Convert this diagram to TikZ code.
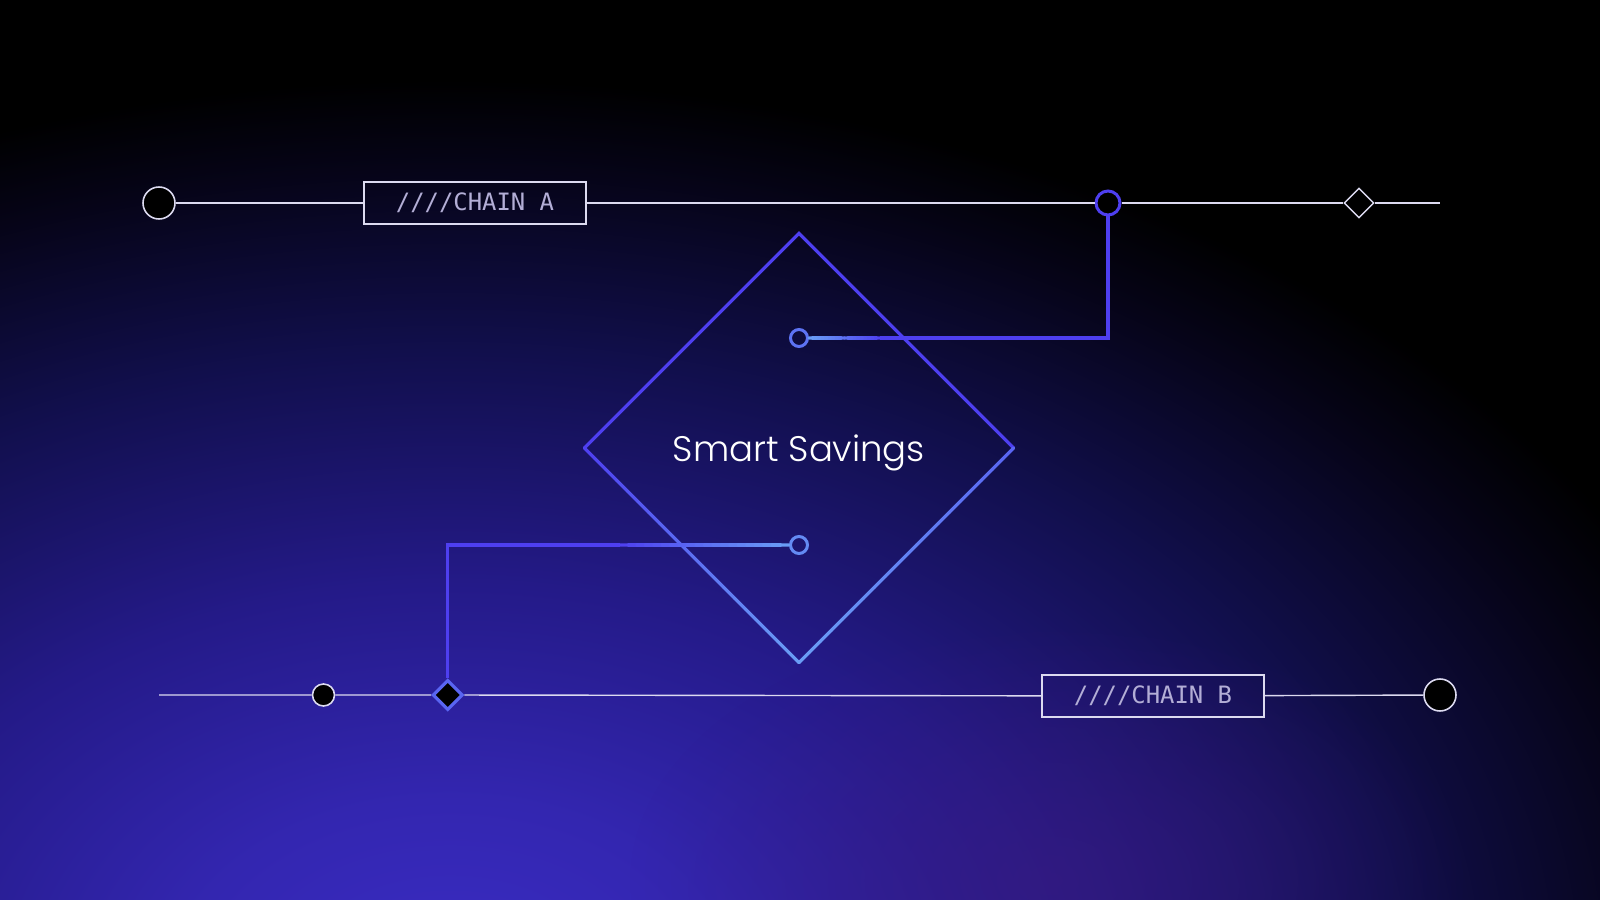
\documentclass[tikz,border=0pt]{standalone}
\usepackage{fontspec}
\newfontfamily\titlefont{Poppins}[UprightFont=* Light]
\newfontfamily\chainfont{DejaVu Sans Mono}
\usetikzlibrary{shapes.geometric, calc, fadings}

\definecolor{glowA}{HTML}{3A2CC4}
\definecolor{glowB}{HTML}{3326B0}
\definecolor{glowC}{HTML}{241A88}
\definecolor{glowD}{HTML}{110F4C}
\definecolor{glowE}{HTML}{060418}
\definecolor{glowP}{HTML}{3A1A80}
\definecolor{indigoline}{HTML}{4E3FF0}
\definecolor{skyline}{HTML}{6A9EF5}
\definecolor{railline}{HTML}{DCDAF0}
\definecolor{tagtext}{HTML}{B3AED6}

\pgfdeclareradialshading{floorglow}{\pgfpoint{0bp}{0bp}}{color(0bp)=(glowA); color(5bp)=(glowB); color(11bp)=(glowC); color(17.5bp)=(glowD); color(22.5bp)=(glowE); color(25bp)=(black); color(50bp)=(black)}
\tikzfading[name=softglow, inner color=transparent!0, outer color=transparent!100]

\tikzset{
  rail/.style={draw=railline, line width=0.4pt},
  wire/.style={draw=indigoline, line width=0.9pt},
  tagbox/.style={draw=railline, line width=0.45pt, minimum width=22.2mm, minimum height=4.2mm, inner sep=0pt, text=tagtext, font=\chainfont\fontsize{6.8}{8}\selectfont},
  endpoint/.style={circle, draw=railline, fill=black, line width=0.45pt, inner sep=0pt, minimum size=3.2mm},
  ring/.style={circle, line width=0.85pt, inner sep=0pt},
}

% colour fading along a straight piece of wire
\newcommand{\fadeline}[4]{%
  \foreach \k in {1,...,20}{%
    \pgfmathsetmacro{\mixpct}{5*\k-2.5}%
    \draw[wire, line cap=round, draw=#4!\mixpct!#3] ($(#1)!{(\k-1)/20}!(#2)$) -- ($(#1)!{\k/20}!(#2)$);
  }}

\begin{document}
\begin{tikzpicture}[x=0.1mm, y=-0.1mm]
    \useasboundingbox (0,0) rectangle (1600,900);

    % background
    \begin{scope}
        \clip (0,0) rectangle (1600,900);
        \fill[black] (0,0) rectangle (1600,900);
        \shade[shading=floorglow] (450,980) ellipse (1350 and 900);
        \fill[glowP, path fading=softglow, fill opacity=0.6] (1050,880) ellipse (420 and 260);
    \end{scope}

    % chain A
    \node[endpoint] (startA) at (159,203) {};
    \node[tagbox] (chainA) at (475,203) {////CHAIN A};
    \node[ring, draw=indigoline, fill=black, minimum size=2.4mm] (ringA) at (1108,203) {};
    \node[diamond, draw=railline, line width=0.4pt, inner sep=0pt, minimum size=3mm] (diamA) at (1359,203) {};
    \coordinate (endA) at (1440,203);

    % chain B
    \coordinate (startB) at (159,695);
    \node[endpoint, minimum size=2.2mm] (dotB) at (323.5,695) {};
    \node[diamond, draw=indigoline!60!skyline, fill=black, line width=0.9pt, inner sep=0pt, minimum size=3mm] (diamB) at (447.7,695) {};
    \node[tagbox] (chainB) at (1153,696) {////CHAIN B};
    \node[endpoint] (endB) at (1440,695) {};

    % smart savings
    \node[diamond, aspect=1, inner sep=0pt, minimum width=42.8mm, minimum height=42.8mm, text depth=0pt, text=white, font=\titlefont\fontsize{10.1}{12}\selectfont] (savings) at (799,448) {Smart Savings};
    \node[ring, draw=indigoline!45!skyline, minimum size=1.7mm] (dotTop) at (799,338) {};
    \node[ring, draw=skyline!80!indigoline, minimum size=1.7mm] (dotBot) at (799,545) {};

    \draw[rail] (startA) -- (chainA) -- (ringA) -- (diamA) -- (endA);
    \draw[rail] (startB) -- (dotB) -- (diamB) -- (chainB) -- (endB);

    % diamond outline
    \draw[wire] (savings.west) -- (savings.north) -- (savings.east);
    \fadeline{savings.west}{savings.south}{indigoline}{skyline}
    \fadeline{savings.east}{savings.south}{indigoline!60!skyline}{skyline}

    % chain A -> savings
    \coordinate (fadeTop) at (880,338);
    \draw[wire] (ringA) |- (fadeTop);
    \fadeline{fadeTop}{dotTop.east}{indigoline}{skyline}

    % chain B -> savings
    \coordinate (fadeBot) at (620,545);
    \draw[wire] (diamB) |- (fadeBot);
    \fadeline{fadeBot}{dotBot.west}{indigoline}{skyline}

\end{tikzpicture}
\end{document}
